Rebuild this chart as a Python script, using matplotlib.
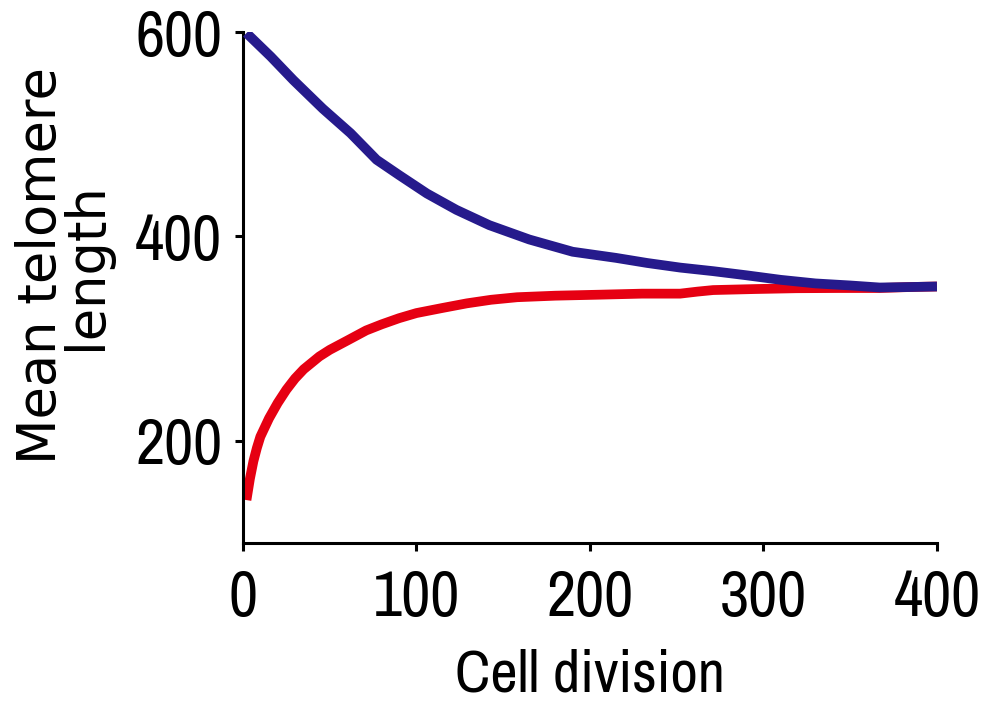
import matplotlib
matplotlib.use("Agg")
import matplotlib.pyplot as plt
from matplotlib import font_manager

# Cell division index and mean telomere length, population starting long
div_long = [2, 16, 29, 46, 62, 77, 90, 106, 123, 142, 165, 190, 215, 233, 252,
            271, 290, 310, 330, 350, 367, 385, 400]
len_long = [599, 576, 553, 525, 501, 475, 460, 442, 426, 411, 397, 385, 379, 374,
            369.5, 366, 362, 357.5, 354, 352, 350, 350.5, 351]

# Population starting short
div_short = [2, 4, 6, 8, 10, 15, 20, 25, 30, 35, 44, 50, 60, 71, 80, 90, 100, 115,
             129, 143, 158, 180, 206, 230, 252, 262, 271, 295, 319, 343, 367, 385,
             400]
len_short = [142, 163, 180, 193, 204, 222, 237, 250, 261, 270, 282.5, 289, 298, 308,
             314, 320, 325, 330, 334.5, 338, 340.5, 342, 343, 344, 344, 346, 347.5,
             348.5, 349.3, 349.5, 349.5, 350.5, 351]

x_ticks = [0, 100, 200, 300, 400]
y_ticks = [200, 400, 600]

names = {f.name for f in font_manager.fontManager.ttflist}
narrow = next((n for n in ("Archivo Narrow", "Roboto Condensed", "PT Sans Narrow")
               if n in names), "DejaVu Sans")

fig = plt.figure(figsize=(9.81, 7.04), dpi=100)
ax = fig.add_axes([0.2477, 0.2287, 0.7074, 0.7258])

ax.plot(div_long, len_long, color="#261a8c", lw=7, solid_capstyle="butt", zorder=3)
ax.plot(div_short, len_short, color="#e60012", lw=7, solid_capstyle="butt", zorder=2)

ax.set_xlim(0, 400)
ax.set_ylim(100, 600)
ax.set_xticks(x_ticks)
ax.set_yticks(y_ticks)
ax.set_xticklabels([str(v) for v in x_ticks], fontfamily=narrow, fontsize=46)
ax.set_yticklabels([str(v) for v in y_ticks], fontfamily=narrow, fontsize=46)

for side in ("top", "right"):
    ax.spines[side].set_visible(False)
for side in ("left", "bottom"):
    ax.spines[side].set_linewidth(2.2)
ax.tick_params(axis="both", direction="out", length=6, width=2.2, color="black")
ax.tick_params(axis="x", pad=13)
ax.tick_params(axis="y", pad=9)

ax.set_xlabel("Cell division", fontfamily=narrow, fontsize=43, labelpad=15)
fig.text(63.5 / 981, 1 - 266 / 704, "Mean telomere\nlength", rotation=90,
         ha="center", va="center", multialignment="center",
         fontfamily="DejaVu Sans", fontsize=38, linespacing=0.85)

fig.savefig("out.png", dpi=100)
